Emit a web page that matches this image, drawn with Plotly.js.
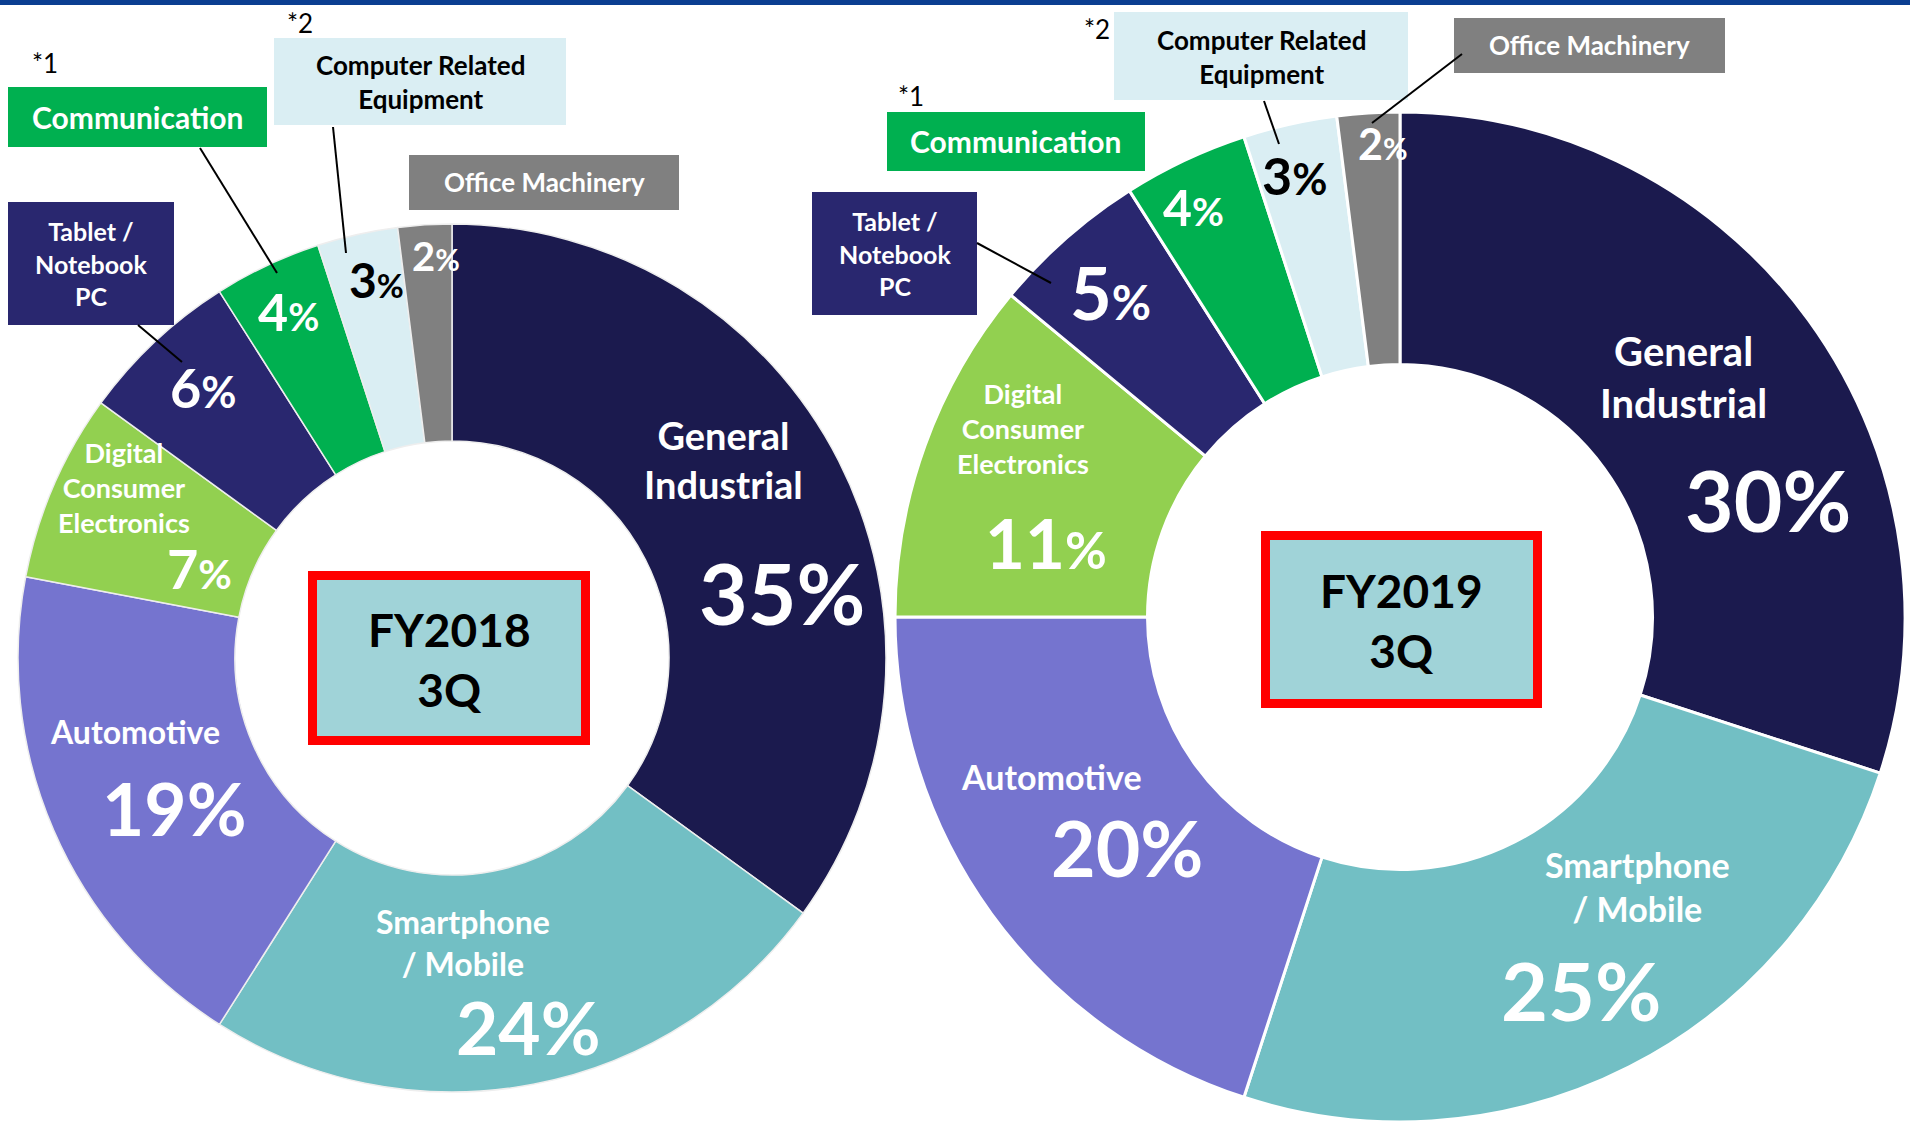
<!DOCTYPE html>
<html>
<head>
<meta charset="utf-8">
<script src="https://cdn.plot.ly/plotly-3.0.1.min.js"></script>
<style>
  html, body { margin:0; padding:0; background:#fff; overflow:hidden; }
  #chart { width:1910px; height:1122px; }
</style>
</head>
<body>
<div id="chart"></div>
<script>
// ---------------- DATA ----------------
const categories = ['General Industrial','Smartphone / Mobile','Automotive','Digital Consumer Electronics','Tablet / Notebook PC','Communication','Computer Related Equipment','Office Machinery'];
const fy2018 = [35, 24, 19, 7, 6, 4, 3, 2];
const fy2019 = [30, 25, 20, 11, 5, 4, 3, 2];
const periods = ['FY2018', 'FY2019'];
const quarter = '3Q';
const sliceColors = ['#1b1a4e','#72bfc4','#7574cf','#92d050','#29276f','#00b050','#daeef3','#808080'];

// ---------------- LAYOUT HELPERS ----------------
const W = 1910, H = 1122;
const X = v => v / W;
const Y = v => 1 - v / H;
const F = 'Lato, "Open Sans", sans-serif';

function txt(x, y, text, size, color, weight) {
  return {xref:'paper', yref:'paper', x:X(x), y:Y(y), text:text, showarrow:false,
          xanchor:'center', yanchor:'middle', align:'center',
          font:{family:F, size:size, color:color, weight: weight || 'bold'}};
}
function pct(v, big, small) {
  return small ? v + "<span style='font-size:" + small + "px'>%</span>" : v + '%';
}
function rect(x0, y0, x1, y1, fill, lineColor, lw) {
  return {type:'rect', xref:'paper', yref:'paper', x0:X(x0), x1:X(x1), y0:Y(y0), y1:Y(y1),
          fillcolor:fill, line:{color:lineColor || fill, width: lw || 0}, layer:'above'};
}
function seg(x0, y0, x1, y1) {
  return {type:'line', xref:'paper', yref:'paper', x0:X(x0), x1:X(x1), y0:Y(y0), y1:Y(y1),
          line:{color:'#000', width:2}, layer:'above'};
}

// per-chart label placement (pixel coordinates)
const charts = [
  {
    values: fy2018, period: periods[0],
    domain: {x:[X(18), X(886)], y:[Y(1092), Y(224)]}, border: {color:'#eeeeee', width:1.5},
    pctPos: [[782,592,84,0,'#fff'],[528,1027,73,0,'#fff'],[174,808,73,0,'#fff'],[199,568,54,41,'#fff'],
             [203,387,54,43,'#fff'],[288,311,52,38,'#fff'],[376,280,48,33,'#000'],[436,256,40,30,'#fff']],
    names: [[723,459,38],[463,942,32],[135,731,32],[124,487,27]],
    boxes: {comm:[8,87,267,147], comp:[274,38,566,125], office:[409,155,679,210], tablet:[8,202,174,325]},
    stars: [[45,63],[300,23]],
    lines: [[200,148,277,273],[333,127,346,253],[138,325,182,362]],
    center: [308,571,590,745]
  },
  {
    values: fy2019, period: periods[1],
    domain: {x:[X(895), X(1905)], y:[Y(1122), Y(112)]}, border: {color:'#ffffff', width:3},
    pctPos: [[1768,499,84,0,'#fff'],[1581,989,81,0,'#fff'],[1127,847,77,0,'#fff'],[1046,542,69,51,'#fff'],
             [1110,292,72,48,'#fff'],[1193,207,50,39,'#fff'],[1294,175,52,43,'#000'],[1383,143,43,30,'#fff']],
    names: [[1683,377,40],[1637,886,34],[1051,776,34],[1023,429,27]],
    boxes: {comm:[887,112,1145,171], comp:[1114,12,1408,100], office:[1454,18,1725,73], tablet:[812,192,977,315]},
    stars: [[911,96],[1097,29]],
    lines: [[1462,54,1372,123],[1264,101,1279,144],[977,243,1051,283]],
    center: [1261,531,1542,708]
  }
];

const nameText = [
  'General<br>Industrial',
  'Smartphone<br>/ Mobile',
  'Automotive',
  'Digital<br>Consumer<br>Electronics'
];

const traces = [];
const annotations = [];
const shapes = [rect(0, 0, W, 5, '#0b3e91')];

charts.forEach(c => {
  traces.push({
    type:'pie', values:c.values, labels:categories, sort:false, direction:'clockwise', rotation:0,
    hole:0.5, domain:c.domain, textinfo:'none', hoverinfo:'label+percent', showlegend:false,
    marker:{colors:sliceColors, line:c.border}
  });
  // percentages
  c.values.forEach((v, i) => {
    const p = c.pctPos[i];
    annotations.push(txt(p[0], p[1], pct(v, p[2], p[3]), p[2], p[4]));
  });
  // names in slices
  c.names.forEach((n, i) => annotations.push(txt(n[0], n[1], nameText[i], n[2], '#fff')));
  // callout boxes
  const b = c.boxes;
  shapes.push(rect(b.comm[0], b.comm[1], b.comm[2], b.comm[3], sliceColors[5]));
  shapes.push(rect(b.comp[0], b.comp[1], b.comp[2], b.comp[3], sliceColors[6]));
  shapes.push(rect(b.office[0], b.office[1], b.office[2], b.office[3], sliceColors[7]));
  shapes.push(rect(b.tablet[0], b.tablet[1], b.tablet[2], b.tablet[3], sliceColors[4]));
  const mid = r => [(r[0] + r[2]) / 2, (r[1] + r[3]) / 2];
  let m = mid(b.comm);   annotations.push(txt(m[0], m[1], categories[5], 30, '#fff'));
  m = mid(b.comp);       annotations.push(txt(m[0], m[1] + 1, 'Computer Related<br>Equipment', 26, '#000'));
  m = mid(b.office);     annotations.push(txt(m[0], m[1], categories[7], 26, '#fff'));
  m = mid(b.tablet);     annotations.push(txt(m[0], m[1], 'Tablet /<br>Notebook<br>PC', 25, '#fff'));
  annotations.push(txt(c.stars[0][0], c.stars[0][1], '*1', 26, '#000', 'normal'));
  annotations.push(txt(c.stars[1][0], c.stars[1][1], '*2', 26, '#000', 'normal'));
  c.lines.forEach(l => shapes.push(seg(l[0], l[1], l[2], l[3])));
  // center label box
  const cb = c.center, lw = 9;
  shapes.push(rect(cb[0] + lw/2, cb[1] + lw/2, cb[2] - lw/2, cb[3] - lw/2, '#a0d3d8', '#ff0000', lw));
  m = mid(cb);
  annotations.push(txt(m[0], m[1] + 1, c.period + '<br>' + quarter, 46, '#000'));
});

const layout = {
  width: W, height: H,
  margin: {l:0, r:0, t:0, b:0},
  paper_bgcolor: '#ffffff', plot_bgcolor: '#ffffff',
  showlegend: false,
  shapes: shapes,
  annotations: annotations
};

Plotly.newPlot('chart', traces, layout, {displayModeBar:false, staticPlot:true});
</script>
</body>
</html>
